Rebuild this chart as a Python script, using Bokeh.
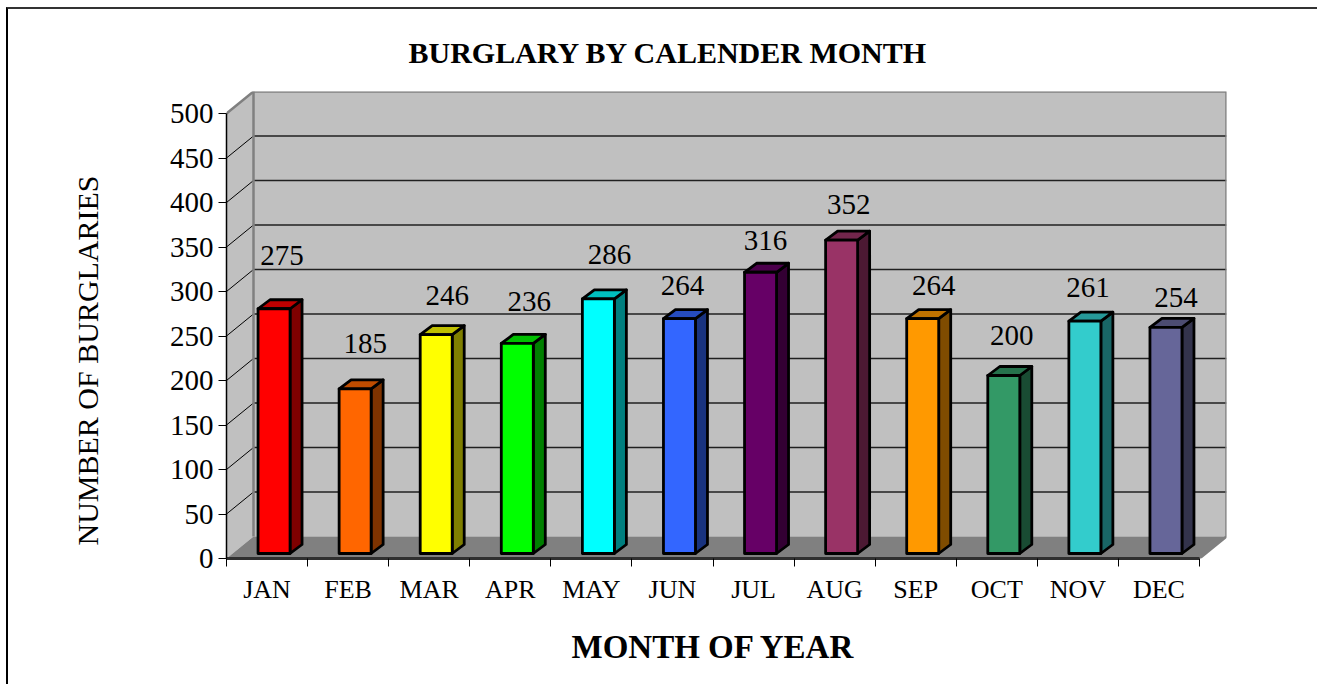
from bokeh.plotting import figure
from bokeh.embed import file_html
from bokeh.resources import INLINE
from bokeh.models import Range1d, LinearAxis, FixedTicker, Title
from bokeh.core.properties import value

months = ["JAN","FEB","MAR","APR","MAY","JUN","JUL","AUG","SEP","OCT","NOV","DEC"]
burglaries = [275,185,246,236,286,264,316,352,264,200,261,254]
colors = ["#FF0000","#FF6600","#FFFF00","#00FF00","#00FFFF","#3366FF","#660066","#993366","#FF9900","#339966","#33CCCC","#666699"]
y_ticks = [0,50,100,150,200,250,300,350,400,450,500]
# hand placement of the value labels in the original, pixels relative to the bar
label_dx = [8,10,11,12,11,3,5,7,11,8,3,10]
label_lift = [53,45,39,42,44,33,32,36,33,40,34,30]

FONT = "Liberation Serif"
PX_X = 973/12       # px per month
PX_Y = 445/500      # px per burglary
WALL_DX, WALL_DY = 27/PX_X, 22/PX_Y     # depth of the chart box
BAR_W = 32/PX_X
BAR_X0, BAR_Y0 = 7/PX_X, 5/PX_Y         # shift of the bar's front from the front plane
BAR_DX, BAR_DY = 12/PX_X, 9/PX_Y        # depth of a bar
X_MAX, Y_MAX = 12, 500

p = figure(frame_width=1000, frame_height=467,
           min_border_left=218, min_border_top=82, min_border_right=91, min_border_bottom=126,
           x_range=Range1d(0, 1000/PX_X), y_range=Range1d(0, 467/PX_Y),
           x_axis_type=None, y_axis_type=None, output_backend="svg", toolbar_location=None,
           outline_line_color=None, margin=(7,0,0,6))
p.xgrid.visible = False
p.ygrid.visible = False
p.border_fill_color = None
p.background_fill_color = None

WALL = "#C0C0C0"; EDGE = "#808080"
# side wall, back wall, floor
p.patch([0,WALL_DX,WALL_DX,0],[0,WALL_DY,Y_MAX+WALL_DY,Y_MAX], fill_color=WALL, line_color=None)
p.patch([WALL_DX,X_MAX+WALL_DX,X_MAX+WALL_DX,WALL_DX],[WALL_DY,WALL_DY,Y_MAX+WALL_DY,Y_MAX+WALL_DY],
        fill_color=WALL, line_color=None)
p.patch([0,X_MAX,X_MAX+WALL_DX,WALL_DX],[0,0,WALL_DY,WALL_DY], fill_color=EDGE, line_color=None)
# gridlines
gy = [t for t in y_ticks if 0 < t < Y_MAX]
p.segment([0]*len(gy),gy,[WALL_DX]*len(gy),[t+WALL_DY for t in gy], line_color="#000000", line_width=1)
p.segment([WALL_DX]*len(gy),[t+WALL_DY for t in gy],[X_MAX+WALL_DX]*len(gy),[t+WALL_DY for t in gy],
          line_color="#202020", line_width=1.3)
# wall edges
p.line([0,WALL_DX,X_MAX+WALL_DX,X_MAX+WALL_DX,X_MAX],
       [Y_MAX,Y_MAX+WALL_DY,Y_MAX+WALL_DY,WALL_DY,0], line_color=EDGE, line_width=2.5)
p.line([WALL_DX,WALL_DX],[WALL_DY,Y_MAX+WALL_DY], line_color=EDGE, line_width=2.5)

def shade(c, f):
    r,g,b = int(c[1:3],16),int(c[3:5],16),int(c[5:7],16)
    return "#%02X%02X%02X" % (int(r*f),int(g*f),int(b*f))

for i,(v,c) in enumerate(zip(burglaries,colors)):
    x0 = i + 0.5 + BAR_X0 - BAR_W/2
    x1 = x0 + BAR_W
    y0 = BAR_Y0
    y1 = y0 + v
    p.patch([x1,x1+BAR_DX,x1+BAR_DX,x1],[y0,y0+BAR_DY,y1+BAR_DY,y1], fill_color=shade(c,0.5),
            line_color="#000000", line_width=2.8, line_join="round")
    p.patch([x0,x1,x1+BAR_DX,x0+BAR_DX],[y1,y1,y1+BAR_DY,y1+BAR_DY], fill_color=shade(c,0.75),
            line_color="#000000", line_width=2.8, line_join="round")
    p.patch([x0,x1,x1,x0],[y0,y0,y1,y1], fill_color=c, line_color="#000000", line_width=2.8, line_join="round")

xc = [i + 0.5 + BAR_X0 + label_dx[i]/PX_X for i in range(12)]
yc = [BAR_Y0 + v + label_lift[i]/PX_Y for i,v in enumerate(burglaries)]
p.text(xc, yc, text=[str(v) for v in burglaries], text_font=value(FONT), text_font_size="29px",
       text_align="center", text_baseline="middle", text_color="#000000")

yax = LinearAxis(ticker=FixedTicker(ticks=y_ticks), bounds=(0,Y_MAX))
yax.major_label_text_font = FONT
yax.major_label_text_font_size = "29px"
yax.major_label_text_color = "#000000"
yax.major_tick_in = 0
yax.major_tick_out = 8
yax.minor_tick_line_color = None
yax.axis_line_color = "#000000"
yax.axis_line_width = 1.5
yax.major_label_standoff = 5
p.add_layout(yax, "left")

xax = LinearAxis(ticker=FixedTicker(ticks=[i+0.5 for i in range(12)], minor_ticks=list(range(13))),
                 bounds=(0,X_MAX))
xax.major_label_overrides = {i+0.5: m for i,m in enumerate(months)}
xax.major_label_text_font = FONT
xax.major_label_text_font_size = "26px"
xax.major_label_text_color = "#000000"
xax.major_tick_line_color = None
xax.major_tick_in = 0
xax.major_tick_out = 8
xax.minor_tick_in = 0
xax.minor_tick_out = 8
xax.minor_tick_line_color = "#000000"
xax.axis_line_color = "#303030"
xax.axis_line_width = 3
xax.major_label_standoff = 8
p.add_layout(xax, "below")

def title_at(place, text, size, offset, standoff, bold=False, vertical_align="bottom"):
    p.add_layout(Title(text=text, align="left", offset=offset, standoff=standoff, text_font=FONT,
                       text_font_size=size, text_font_style="bold" if bold else "normal",
                       vertical_align=vertical_align, text_color="#000000"), place)

title_at("above", "BURGLARY BY CALENDER MONTH", "30px", 182, 45, bold=True)
title_at("below", "MONTH OF YEAR", "33px", 345, 41, bold=True)
title_at("left", "NUMBER OF BURGLARIES", "30px", 13, 122, vertical_align="top")

p.styles = {"border-left":"2px solid #000","border-top":"2px solid #333"}

open("out.html","w").write(file_html(p, INLINE))
